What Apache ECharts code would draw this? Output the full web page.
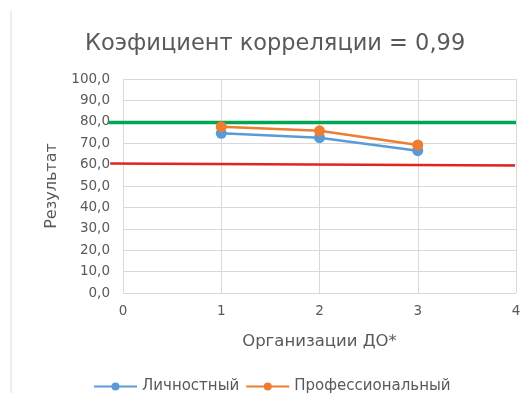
<!DOCTYPE html>
<html><head><meta charset="utf-8">
<script src="https://cdn.jsdelivr.net/npm/echarts@6/dist/echarts.min.js"></script>
<style>html,body{margin:0;padding:0;background:#fff}#c{width:529px;height:403px}</style>
</head><body><div id="c"></div>
<script>
const xValues = [1, 2, 3];
const personal = [74.6, 72.6, 66.5];
const professional = [77.7, 75.8, 69.2];
const seriesNames = ['Личностный', 'Профессиональный'];
const greenLine = [[-0.15, 79.7], [4, 79.7]];
const redLine = [[-0.13, 60.5], [3.99, 59.6]];
const yTicks = [0, 10, 20, 30, 40, 50, 60, 70, 80, 90, 100];
const xTicks = [0, 1, 2, 3, 4];
const titleText = 'Коэфициент корреляции = 0,99';

const font = '"DejaVu Sans", Verdana, sans-serif';
const chart = echarts.init(document.getElementById('c'));
chart.setOption({
  animation: false,
  textStyle: { fontFamily: font },
  title: { text: titleText, left: 80, top: 28, textStyle: { fontFamily: font, fontSize: 22.5, fontWeight: 'normal', color: '#595959' } },
  grid: { left: 123, right: 13, top: 79, bottom: 110 },
  xAxis: {
    type: 'value', min: xTicks[0], max: xTicks[xTicks.length - 1], interval: 1,
    name: 'Организации ДО*', nameLocation: 'middle', nameGap: 40,
    nameTextStyle: { fontFamily: font, fontSize: 16.5, color: '#595959' },
    axisLine: { show: false }, axisTick: { show: false },
    axisLabel: { color: '#595959', fontSize: 13.5, margin: 11 },
    splitLine: { show: true, lineStyle: { color: '#d9d9d9' } }
  },
  yAxis: {
    type: 'value', min: yTicks[0], max: yTicks[yTicks.length - 1], interval: 10,
    name: 'Результат', nameLocation: 'middle', nameGap: 63,
    nameTextStyle: { fontFamily: font, fontSize: 16, color: '#595959' },
    axisLine: { show: false }, axisTick: { show: false },
    axisLabel: { color: '#595959', fontSize: 13.5, margin: 13, formatter: v => v.toFixed(1).replace('.', ',') },
    splitLine: { show: true, lineStyle: { color: '#d9d9d9' } }
  },
  legend: {
    data: seriesNames, top: 374, left: 88, itemWidth: 43, itemHeight: 10, itemGap: 6,
    textStyle: { fontFamily: font, fontSize: 15, color: '#595959' }
  },
  series: [
    { name: seriesNames[0], type: 'line', data: xValues.map((x, i) => [x, personal[i]]), symbol: 'circle', symbolSize: 11,
      itemStyle: { color: '#5B9BD5' }, lineStyle: { color: '#5B9BD5', width: 2.5 }, z: 3 },
    { name: seriesNames[1], type: 'line', data: xValues.map((x, i) => [x, professional[i]]), symbol: 'circle', symbolSize: 11,
      itemStyle: { color: '#ED7D31' }, lineStyle: { color: '#ED7D31', width: 2.5 }, z: 4 }
  ]
});
function seg(pts, color, w) {
  const a = chart.convertToPixel({ gridIndex: 0 }, pts[0]);
  const b = chart.convertToPixel({ gridIndex: 0 }, pts[1]);
  return { type: 'line', z: 2, shape: { x1: a[0], y1: a[1], x2: b[0], y2: b[1] }, style: { stroke: color, lineWidth: w } };
}
chart.setOption({
  graphic: [
    { type: 'line', shape: { x1: 11, y1: 11, x2: 11, y2: 393 }, style: { stroke: '#dddddd', lineWidth: 1 } },
    seg(greenLine, '#00A651', 3.5),
    seg(redLine, '#E02424', 2.5)
  ]
});
</script></body></html>
